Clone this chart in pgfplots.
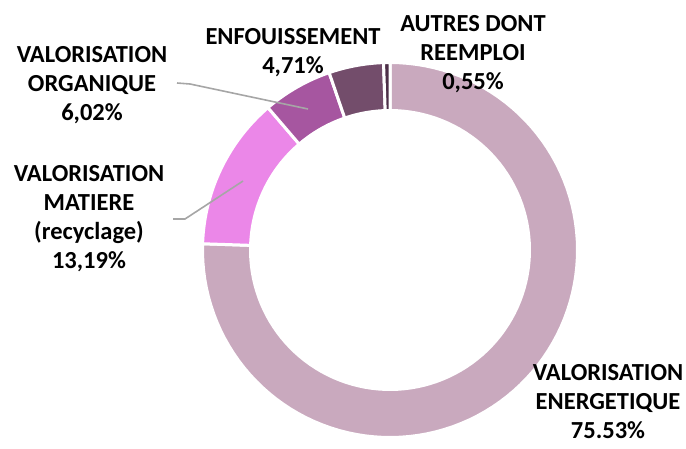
\documentclass[border=0pt]{standalone}
\usepackage{pgfplots}
\pgfplotsset{compat=1.18}
\usepackage{fontspec}
\setmainfont{Carlito}
\definecolor{cEner}{HTML}{C9A9BE}
\definecolor{cMat}{HTML}{EB87E8}
\definecolor{cOrg}{HTML}{A656A0}
\definecolor{cEnf}{HTML}{734D6B}
\definecolor{cAut}{HTML}{4D2F48}
\definecolor{cLead}{HTML}{A6A6A6}
% data (percent)
\def\vEner{75.53}
\def\vMat{13.19}
\def\vOrg{6.02}
\def\vEnf{4.71}
\def\vAut{0.55}
% geometry
\def\cx{390}\def\cy{198}\def\Ro{187.5}\def\Ri{139.5}
\pgfmathsetmacro{\aA}{90}
\pgfmathsetmacro{\aB}{\aA-3.6*\vEner}
\pgfmathsetmacro{\aC}{\aB-3.6*\vMat}
\pgfmathsetmacro{\aD}{\aC-3.6*\vOrg}
\pgfmathsetmacro{\aE}{\aD-3.6*\vEnf}
\pgfmathsetmacro{\aF}{\aE-3.6*\vAut}
\newcommand{\seg}[3]{%
 \addplot[fill=#1, draw=white, line width=3pt, domain=0:3, samples=301, variable=\t]
 ({((\t<1)?(\Ro):((\t<2)?(\Ro+(\t-1)*(\Ri-\Ro)):(\Ri)))*cos((\t<1)?((#2)+\t*((#3)-(#2))):((\t<2)?(#3):((#3)+(\t-2)*((#2)-(#3)))))+\cx},
  {((\t<1)?(\Ro):((\t<2)?(\Ro+(\t-1)*(\Ri-\Ro)):(\Ri)))*sin((\t<1)?((#2)+\t*((#3)-(#2))):((\t<2)?(#3):((#3)+(\t-2)*((#2)-(#3)))))+\cy}) -- cycle;}
\begin{document}
\begin{tikzpicture}
\begin{axis}[width=686pt, height=448pt, scale only axis, xmin=0, xmax=686, ymin=0, ymax=448, hide axis, clip=false]
\coordinate (sw) at (rel axis cs:0,0);
\coordinate (ne) at (rel axis cs:1,1);
\seg{cEner}{\aA}{\aB}
\seg{cMat}{\aB}{\aC}
\seg{cOrg}{\aC}{\aD}
\seg{cEnf}{\aD}{\aE}
\seg{cAut}{\aE}{\aF}
\addplot[cLead, line width=1.6pt] coordinates {(177,365) (190,364) (308,339)};
\addplot[cLead, line width=1.6pt] coordinates {(173,229) (185,229) (243,267)};
\tikzset{lab/.style={font=\fontsize{24.5}{29}\selectfont\bfseries, align=center, inner sep=0pt}}
\node[lab] at (axis cs:293,395.5) {ENFOUISSEMENT\\4,71\%};
\node[lab] at (axis cs:473,394) {AUTRES DONT\\REEMPLOI\\0,55\%};
\node[lab] at (axis cs:92,363) {VALORISATION\\ORGANIQUE\\6,02\%};
\node[lab] at (axis cs:89,229) {VALORISATION\\MATIERE\\(recyclage)\\13,19\%};
\node[lab] at (axis cs:608,46) {VALORISATION\\ENERGETIQUE\\75.53\%};
\end{axis}
\pgfresetboundingbox
\useasboundingbox (sw) rectangle (ne);
\end{tikzpicture}
\end{document}
